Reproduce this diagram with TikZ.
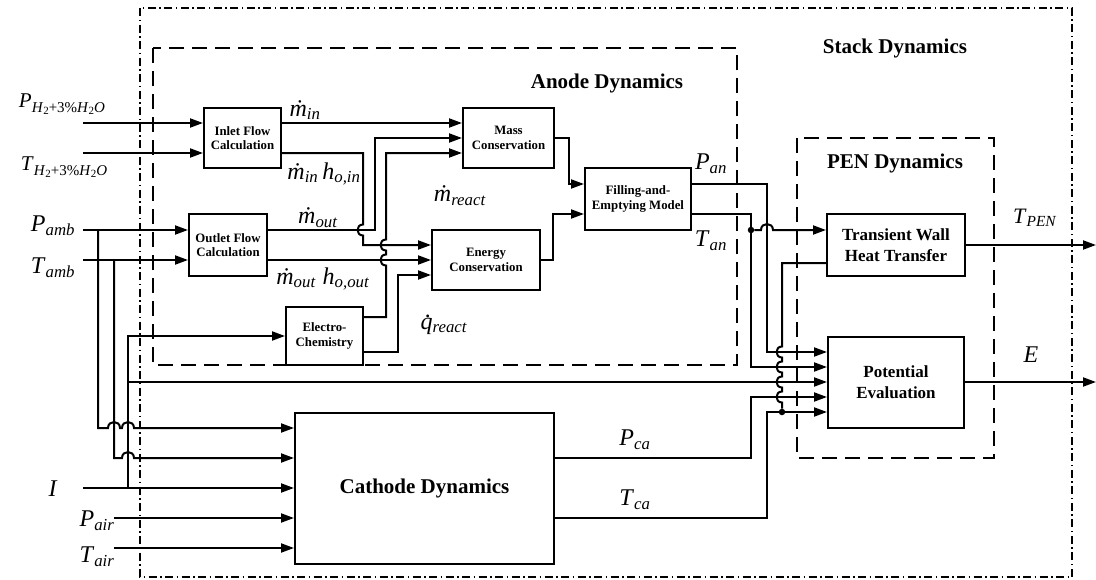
\documentclass[tikz,border=0pt]{standalone}
\usepackage{fontspec}
\setmainfont{Liberation Serif}
\usetikzlibrary{arrows.meta,positioning,calc}

\newcommand{\vlab}[2]{\textit{#1}\textsubscript{\textit{#2}}}
\newcommand{\dt}[1]{\sbox0{\textit{#1}}\makebox[\wd0][c]{\raisebox{0.5em}[0pt][0pt]{\hspace{0.15em}\textit{.}}}\kern-\wd0\usebox0}
\newcommand{\hmix}{\raisebox{-5pt}{\fontsize{15}{17}\selectfont\textit{H}\raisebox{-2pt}{\fontsize{11}{12}\selectfont 2}+3\%\textit{H}\raisebox{-2pt}{\fontsize{11}{12}\selectfont 2}\textit{O}}}
% hops: horizontal wire over a vertical one, vertical wire (down / up) over a horizontal one
\newcommand{\hoph}[2]{-- ({#1-6},#2) .. controls ({#1-6},{#2-8}) and ({#1+6},{#2-8}) .. ({#1+6},#2)}
\newcommand{\hopv}[2]{-- (#1,{#2-5.5}) .. controls ({#1-7.3},{#2-5.5}) and ({#1-7.3},{#2+5.5}) .. (#1,{#2+5.5})}
\newcommand{\hopvu}[2]{-- (#1,{#2+5.5}) .. controls ({#1-7.3},{#2+5.5}) and ({#1-7.3},{#2-5.5}) .. (#1,{#2-5.5})}

\begin{document}
\begin{tikzpicture}[x=1pt, y=-1pt,
  blk/.style={draw, line width=2pt, align=center, inner sep=2pt,
              font=\fontsize{12.8}{14.5}\selectfont\bfseries},
  bigblk/.style={blk, font=\fontsize{17}{21.5}\selectfont\bfseries},
  wire/.style={line width=2pt},
  sig/.style={wire, -{Triangle[length=13pt,width=9pt]}},
  lab/.style={inner sep=0pt, font=\fontsize{24}{26}\selectfont},
  ttl/.style={inner sep=0pt, font=\fontsize{21}{24}\selectfont\bfseries},
  grp/.style={line width=2pt, dash pattern=on 15pt off 8pt},
  dot/.style={fill, circle, inner sep=0pt, minimum size=6.5pt}
]
  \useasboundingbox (0,0) rectangle (1096,579);

  % group frames
  \draw[line width=1.6pt, dash pattern=on 8pt off 3.5pt on 1.5pt off 3.5pt]
        (140,8) rectangle (1072,577);
  \draw[grp] (153,48) rectangle (737,365);
  \draw[grp] (797,138) rectangle (994,458);
  \node[ttl] (stackttl) at (895,48)  {Stack Dynamics};
  \node[ttl] (anodettl) at (607,83)  {Anode Dynamics};
  \node[ttl] (penttl)   at (895,163) {PEN Dynamics};

  % blocks
  \node[blk, minimum width=77pt, minimum height=60pt]  (inlet)    at (242.5,138) {Inlet Flow\\Calculation};
  \node[blk, minimum width=78pt, minimum height=62pt]  (outlet)   at (228,245)   {Outlet Flow\\Calculation};
  \node[blk, minimum width=91pt, minimum height=60pt]  (mass)     at (508.5,138) {Mass\\Conservation};
  \node[blk, minimum width=108pt, minimum height=60pt] (energy)   at (486,260)   {Energy\\Conservation};
  \node[blk, minimum width=106pt, minimum height=62pt] (fill)     at (638,199)   {Filling-and-\\Emptying Model};
  \node[blk, minimum width=77pt, minimum height=58pt]  (electro)  at (324.5,336) {Electro-\\Chemistry};
  \node[bigblk, minimum width=138pt, minimum height=62pt] (transient) at (896,245) {Transient Wall\\Heat Transfer};
  \node[bigblk, minimum width=136pt, minimum height=91pt] (potential) at (896,382) {Potential\\Evaluation};
  \node[blk, minimum width=259pt, minimum height=151pt,
        font=\fontsize{21}{24}\selectfont\bfseries]    (cathode)  at (424.5,488) {Cathode Dynamics};

  % free ends and junctions
  \coordinate (pH2)  at (83,123);
  \coordinate (tH2)  at (83,153);
  \coordinate (pamb) at (83,230);
  \coordinate (tamb) at (83,260);
  \coordinate (icur) at (83,488);
  \coordinate (pair) at (114,518);
  \coordinate (tair) at (114,548);
  \coordinate (tpen) at (1096,245);
  \coordinate (eout) at (1096,382);
  \coordinate (jP)   at (98,230);
  \coordinate (jT)   at (114,260);
  \coordinate (jI)   at (128,488);
  \coordinate (jI2)  at (128,382);
  \node[dot] (tanj)  at (751,230) {};
  \node[dot] (tpenj) at (782,412) {};

  % anode side
  \draw[sig] (pH2) -- (pH2 -| inlet.west);
  \draw[sig] (tH2) -- (tH2 -| inlet.west);
  \draw[sig] (pamb) -- (pamb -| outlet.west);
  \draw[sig] (tamb) -- (tamb -| outlet.west);
  \draw[sig] (pH2 -| inlet.east) -- (pH2 -| mass.west);
  \draw[sig] (tH2 -| inlet.east) -- (363,153) \hopv{363}{230} -- (363,245) -- ($(energy.west)+(0,-15)$);
  \draw[sig] (pamb -| outlet.east) -- (375,230) -- (375,138) -- (mass.west);
  \draw[sig] (tamb -| outlet.east) -- (energy.west);
  \draw[sig] ($(electro.east)+(0,-19)$) -- (386,317) \hopvu{386}{260} \hopvu{386}{245} -- (386,153) -- ($(mass.west)+(0,15)$);
  \draw[sig] ($(electro.east)+(0,16)$) -- (398,352) -- (398,275) -- ($(energy.west)+(0,15)$);
  \draw[sig] (mass.east) -- (569,138) -- (569,184) -- ($(fill.west)+(0,-15)$);
  \draw[sig] (energy.east) -- (553,260) -- (553,214) -- ($(fill.west)+(0,15)$);

  % anode outputs
  \draw[sig] ($(fill.east)+(0,-15)$) -- (767,184) -- (767,352) -- ($(potential.west)+(0,-30)$);
  \draw[sig] ($(fill.east)+(0,15)$) -- (751,214) -- (751,367) -- ($(potential.west)+(0,-15)$);
  \draw[sig] (tanj) \hoph{767}{230} -- ($(transient.west)+(0,-15)$);

  % PEN
  \draw[wire] ($(transient.west)+(0,18)$) -- (782,263) \hopv{782}{352} \hopv{782}{367} \hopv{782}{382} \hopv{782}{397} -- (tpenj);
  \draw[sig] (transient.east) -- (tpen);
  \draw[sig] (potential.east) -- (eout);

  % ambient and current branches
  \draw[sig] (jP) -- (98,428) \hoph{114}{428} \hoph{128}{428} -- ($(cathode.west)+(0,-60)$);
  \draw[sig] (jT) -- (114,458) \hoph{128}{458} -- ($(cathode.west)+(0,-30)$);
  \draw[sig] (icur) -- (cathode.west);
  \draw[sig] (jI) -- (128,336) -- (electro.west);
  \draw[sig] (jI2) -- (potential.west);
  \draw[sig] (pair) -- (pair -| cathode.west);
  \draw[sig] (tair) -- (tair -| cathode.west);

  % cathode outputs
  \draw[sig] ($(cathode.east)+(0,-30)$) -- (751,458) -- (751,397) -- ($(potential.west)+(0,15)$);
  \draw[sig] ($(cathode.east)+(0,30)$) -- (767,518) -- (767,412) -- ($(potential.west)+(0,30)$);

  % signal labels
  \node[lab, font=\fontsize{21}{23}\selectfont] (pH2lbl) at (62,104) {\textit{P}\hmix};
  \node[lab, font=\fontsize{21}{23}\selectfont] (tH2lbl) at (64,167) {\textit{T}\hmix};
  \node[lab] (minlbl)   at (305,110) {\vlab{\.m}{in}};
  \node[lab] (minhlbl)  at (324,174) {\vlab{\.m}{in}\,\vlab{h}{o,in}};
  \node[lab] (moutlbl)  at (318,218) {\vlab{\.m}{out}};
  \node[lab] (mouthlbl) at (323,279) {\vlab{\.m}{out}\;\vlab{h}{o,out}};
  \node[lab] (mrlbl)    at (460,196) {\vlab{\.m}{react}};
  \node[lab] (qrlbl)    at (444,326) {\dt{q}\textsubscript{\textit{react}}};
  \node[lab] (panlbl)   at (711,164) {\vlab{P}{an}};
  \node[lab] (tanlbl)   at (711,241) {\vlab{T}{an}};
  \node[lab, font=\fontsize{22}{24}\selectfont] (tpenlbl) at (1035,218) {\vlab{T}{PEN}};
  \node[lab] (elbl)     at (1031,355) {\textit{E}};
  \node[lab] (pamblbl)  at (53,226)  {\vlab{P}{amb}};
  \node[lab] (tamblbl)  at (53,268)  {\vlab{T}{amb}};
  \node[lab] (ilbl)     at (53,489)  {\textit{I}};
  \node[lab] (pairlbl)  at (97,521)  {\vlab{P}{air}};
  \node[lab] (tairlbl)  at (97,557)  {\vlab{T}{air}};
  \node[lab] (pcalbl)   at (635,440) {\vlab{P}{ca}};
  \node[lab] (tcalbl)   at (635,500) {\vlab{T}{ca}};
\end{tikzpicture}
\end{document}
